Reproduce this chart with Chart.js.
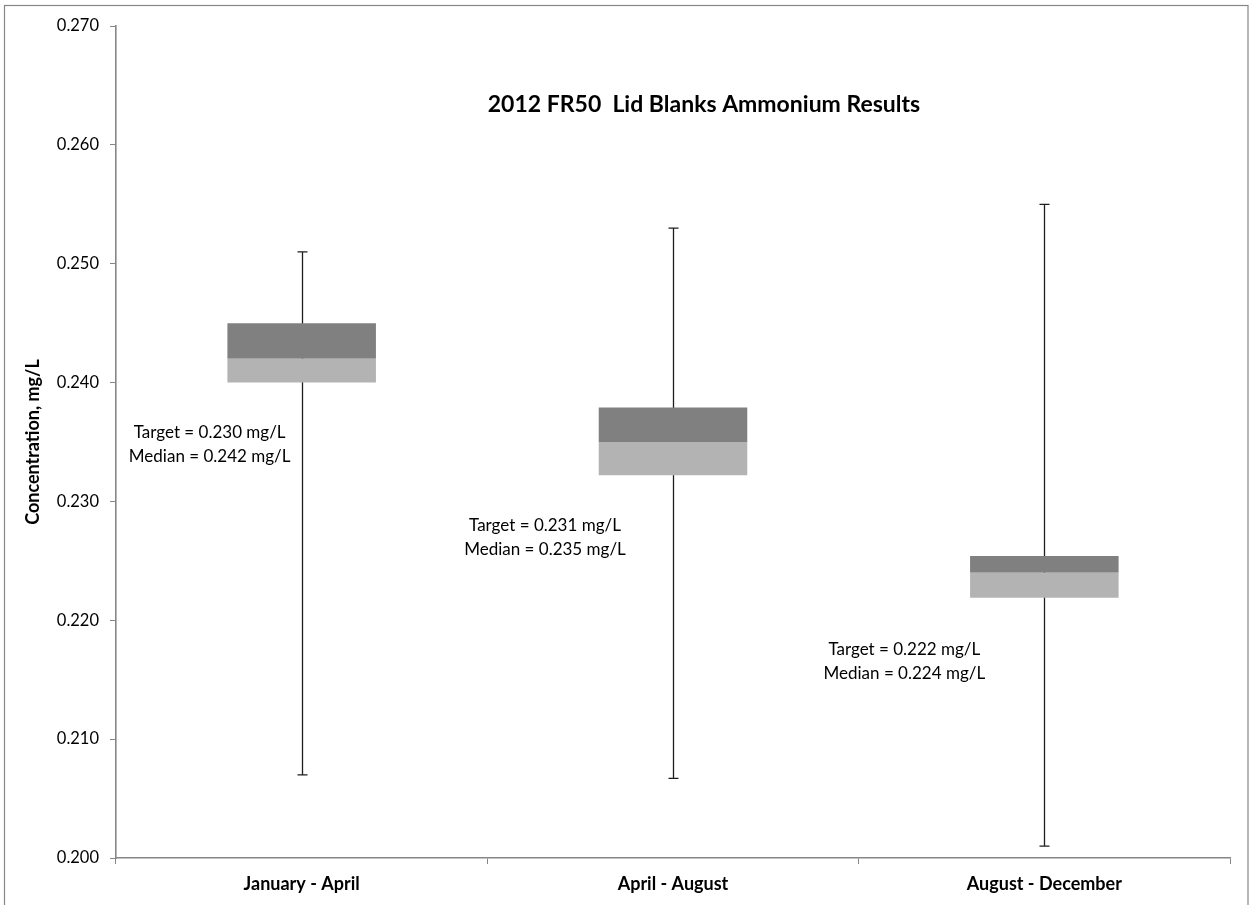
<!DOCTYPE html>
<html>
<head>
<meta charset="utf-8">
<title>2012 FR50 Lid Blanks Ammonium Results</title>
<script src="https://cdn.jsdelivr.net/npm/chart.js@4/dist/chart.umd.min.js"></script>
<style>
  html, body { margin: 0; padding: 0; background: #ffffff; }
  #wrap { width: 1251px; height: 905px; position: relative; }
</style>
</head>
<body>
<div id="wrap"><canvas id="chart" width="1251" height="905"></canvas></div>
<script>
// Sampling periods (x categories)
const periods = ['January - April', 'April - August', 'August - December'];

// Box-and-whisker statistics, mg/L
const minValues    = [0.207, 0.2067, 0.201];
const q1Values     = [0.240, 0.2322, 0.2219];
const medianValues = [0.242, 0.235, 0.224];
const q3Values     = [0.245, 0.2379, 0.2254];
const maxValues    = [0.251, 0.253, 0.255];

// Target concentrations, mg/L
const targetValues = [0.230, 0.231, 0.222];

// Value axis ticks
const yTickValues = [0.200, 0.210, 0.220, 0.230, 0.240, 0.250, 0.260, 0.270];

// Where each Target/Median note sits: value-axis height and horizontal shift from the category centre
const noteLevels  = [0.2358, 0.2280, 0.2175];
const noteShiftPx = [-92, -128, -140];

const AXIS_GREY = '#868686';
const TEXT_FONT = 'Lato, "Open Sans", "Liberation Sans", sans-serif';

const lowerBox = periods.map((_, i) => [q1Values[i], medianValues[i]]);
const upperBox = periods.map((_, i) => [medianValues[i], q3Values[i]]);

// Outer frame, whiskers, notes and heading
const decorations = {
  id: 'decorations',
  beforeDraw(chart) {
    const ctx = chart.ctx;
    ctx.save();
    ctx.fillStyle = '#ffffff';
    ctx.fillRect(0, 0, chart.width, chart.height);
    ctx.strokeStyle = AXIS_GREY;
    ctx.lineWidth = 1.2;
    ctx.strokeRect(4.5, 5.5, 1243.5, 1000);
    ctx.restore();
  },
  beforeDatasetsDraw(chart) {
    const ctx = chart.ctx;
    const xs = chart.scales.x, ys = chart.scales.y;
    ctx.save();
    ctx.strokeStyle = '#1e1e1e';
    ctx.lineWidth = 1.3;
    periods.forEach((_, i) => {
      const x = Math.round(xs.getPixelForValue(i)) + 0.5;
      const yTop = ys.getPixelForValue(maxValues[i]);
      const yBot = ys.getPixelForValue(minValues[i]);
      ctx.beginPath();
      ctx.moveTo(x, yTop);
      ctx.lineTo(x, yBot);
      ctx.moveTo(x - 5, yTop);
      ctx.lineTo(x + 5, yTop);
      ctx.moveTo(x - 5, yBot);
      ctx.lineTo(x + 5, yBot);
      ctx.stroke();
    });
    ctx.restore();
  },
  afterDatasetsDraw(chart) {
    const ctx = chart.ctx;
    const xs = chart.scales.x, ys = chart.scales.y;
    ctx.save();
    ctx.fillStyle = '#000000';
    ctx.textAlign = 'center';
    ctx.textBaseline = 'middle';
    ctx.font = '17px ' + TEXT_FONT;
    periods.forEach((_, i) => {
      const x = xs.getPixelForValue(i) + noteShiftPx[i];
      const y = ys.getPixelForValue(noteLevels[i]);
      ctx.fillText('Target = ' + targetValues[i].toFixed(3) + ' mg/L', x, y);
      ctx.fillText('Median = ' + medianValues[i].toFixed(3) + ' mg/L', x, y + 24);
    });
    ctx.font = 'bold 23px ' + TEXT_FONT;
    ctx.fillText('2012 FR50  Lid Blanks Ammonium Results', 704, 105);
    ctx.restore();
  }
};

new Chart(document.getElementById('chart'), {
  type: 'bar',
  data: {
    labels: periods,
    datasets: [
      {
        label: 'Lower quartile to median',
        data: lowerBox,
        backgroundColor: '#b3b3b3',
        borderWidth: 0,
        grouped: false,
        barPercentage: 0.4,
        categoryPercentage: 1.0
      },
      {
        label: 'Median to upper quartile',
        data: upperBox,
        backgroundColor: '#808080',
        borderWidth: 0,
        grouped: false,
        barPercentage: 0.4,
        categoryPercentage: 1.0
      }
    ]
  },
  options: {
    responsive: false,
    animation: false,
    devicePixelRatio: 1,
    layout: { padding: { top: 26, right: 21, bottom: 0, left: 0 } },
    plugins: {
      legend: { display: false },
      tooltip: { enabled: false },
      title: { display: false }
    },
    scales: {
      x: {
        type: 'category',
        offset: true,
        grid: {
          display: true,
          offset: true,
          drawOnChartArea: false,
          drawTicks: true,
          tickLength: 6,
          color: AXIS_GREY,
          lineWidth: 1
        },
        border: { display: true, color: AXIS_GREY, width: 1.6 },
        ticks: {
          color: '#000000',
          padding: 9,
          maxRotation: 0,
          font: { family: TEXT_FONT, size: 18, weight: 'bold' }
        },
        afterFit(scale) { scale.height = 47; }
      },
      y: {
        type: 'linear',
        min: 0.200,
        max: 0.270,
        afterBuildTicks(scale) {
          scale.ticks = yTickValues.map(v => ({ value: v }));
        },
        grid: {
          display: true,
          drawOnChartArea: false,
          drawTicks: true,
          tickLength: 6,
          color: AXIS_GREY,
          lineWidth: 1
        },
        border: { display: true, color: AXIS_GREY, width: 1.6 },
        ticks: {
          color: '#000000',
          padding: 11,
          font: { family: TEXT_FONT, size: 16.5 },
          callback: v => Number(v).toFixed(3)
        },
        title: {
          display: true,
          text: 'Concentration, mg/L',
          color: '#000000',
          font: { family: TEXT_FONT, size: 18, weight: 'bold' },
          padding: { top: 22, bottom: 0 }
        },
        afterFit(scale) { scale.width = 116; }
      }
    }
  },
  plugins: [decorations]
});
</script>
</body>
</html>
